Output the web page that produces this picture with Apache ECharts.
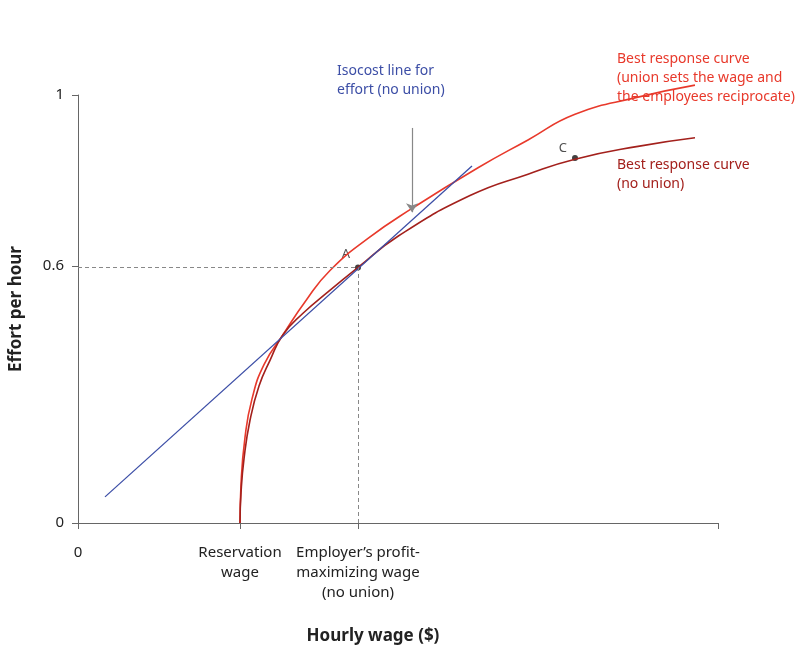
<!DOCTYPE html>
<html>
<head>
<meta charset="utf-8">
<script src="https://cdn.jsdelivr.net/npm/echarts@6/dist/echarts.min.js"></script>
<style>html,body{margin:0;padding:0;background:#fff}#chart{width:810px;height:662px}</style>
</head>
<body>
<div id="chart"></div>
<script>
// wage axis in arbitrary units; 0 = origin
const xTicks = [0, 162, 280, 640];
const xTickLabels = ['0', 'Reservation\nwage', 'Employer’s profit-\nmaximizing wage\n(no union)', ''];
const yTicks = [0, 0.6, 1];

const bestNoUnion = [[162,0],[163,0.07],[166,0.15],[172,0.24],[181,0.32],[192,0.38],[205,0.44],[225,0.49],[250,0.54],[280,0.597],[320,0.67],[392,0.765],[450,0.815],[497,0.85],[560,0.88],[617,0.9]];
const bestUnion = [[162,0],[163,0.09],[167,0.2],[174,0.29],[186,0.37],[205,0.44],[228,0.52],[252,0.59],[290,0.665],[334,0.735],[400,0.83],[450,0.895],[497,0.955],[560,0.995],[617,1.023]];
const isocost = [[27,0.061],[394,0.834]];
const pointA = [280, 0.597];
const pointC = [497, 0.853];

const font = 'Noto Sans';
const red = '#e8392b', darkRed = '#a3201c', blue = '#3c4ea6', grey = '#888';

const chart = echarts.init(document.getElementById('chart'));
chart.setOption({
    animation: false,
    textStyle: { fontFamily: font },
    grid: { left: 73, right: 92, top: 95, bottom: 139 },
    xAxis: {
        type: 'value', min: 0, max: 640,
        name: 'Hourly wage ($)', nameLocation: 'middle', nameGap: 105,
        nameTextStyle: { fontSize: 17, fontWeight: 'bold', color: '#222', padding: [0, 0, 0, -50] },
        axisLine: { lineStyle: { color: '#666' } },
        axisTick: { show: true, customValues: xTicks, length: 6, lineStyle: { color: '#666' } },
        axisLabel: {
            customValues: xTicks, margin: 20, fontSize: 15, color: '#222', lineHeight: 20,
            formatter: v => xTickLabels[xTicks.indexOf(v)] || ''
        },
        splitLine: { show: false }
    },
    yAxis: {
        type: 'value', min: 0, max: 1,
        name: 'Effort per hour', nameLocation: 'middle', nameGap: 53,
        nameTextStyle: { fontSize: 17, fontWeight: 'bold', color: '#222' },
        axisLine: { show: true, lineStyle: { color: '#666' } },
        axisTick: { show: true, customValues: yTicks, length: 6, lineStyle: { color: '#666' } },
        axisLabel: { customValues: yTicks, fontSize: 15, color: '#222', margin: 14 },
        splitLine: { show: false }
    },
    series: [
        {
            type: 'line', data: bestUnion, smooth: true, clip: false, symbol: 'none',
            lineStyle: { color: red, width: 1.6 }
        },
        {
            type: 'line', data: bestNoUnion, smooth: true, clip: false, symbol: 'none',
            lineStyle: { color: darkRed, width: 1.6 }
        },
        {
            type: 'line', data: isocost, symbol: 'none',
            lineStyle: { color: blue, width: 1.3 },
            markLine: {
                silent: true, symbol: ['none', 'arrow'], symbolSize: 9,
                lineStyle: { color: grey, type: 'solid', width: 1.2 },
                label: { show: false },
                data: [[{ coord: [334, 0.923] }, { coord: [334, 0.726] }]]
            }
        },
        {
            type: 'line', symbol: 'none', data: [],
            markLine: {
                silent: true, symbol: 'none',
                lineStyle: { color: grey, type: [4, 3], width: 1 },
                label: { show: false },
                data: [
                    [{ coord: [0, pointA[1]] }, { coord: pointA }],
                    [{ coord: [pointA[0], 0] }, { coord: pointA }]
                ]
            }
        },
        {
            type: 'scatter', symbolSize: 6, itemStyle: { color: '#111' },
            label: { show: true, formatter: p => p.name, color: '#222', fontSize: 13 },
            data: [
                { name: 'A', value: pointA, label: { position: 'left', offset: [0, -13] } },
                { name: 'C', value: pointC, label: { position: 'left', offset: [0, -10] } }
            ]
        }
    ],
    graphic: [
        { type: 'text', left: 617, top: 50, style: { text: 'Best response curve\n(union sets the wage and\nthe employees reciprocate)', fill: red, font: '14px "Noto Sans"', lineHeight: 19 } },
        { type: 'text', left: 617, top: 156, style: { text: 'Best response curve\n(no union)', fill: darkRed, font: '14px "Noto Sans"', lineHeight: 19 } },
        { type: 'text', left: 337, top: 62, style: { text: 'Isocost line for\neffort (no union)', fill: blue, font: '14px "Noto Sans"', lineHeight: 19 } }
    ]
});
</script>
</body>
</html>
